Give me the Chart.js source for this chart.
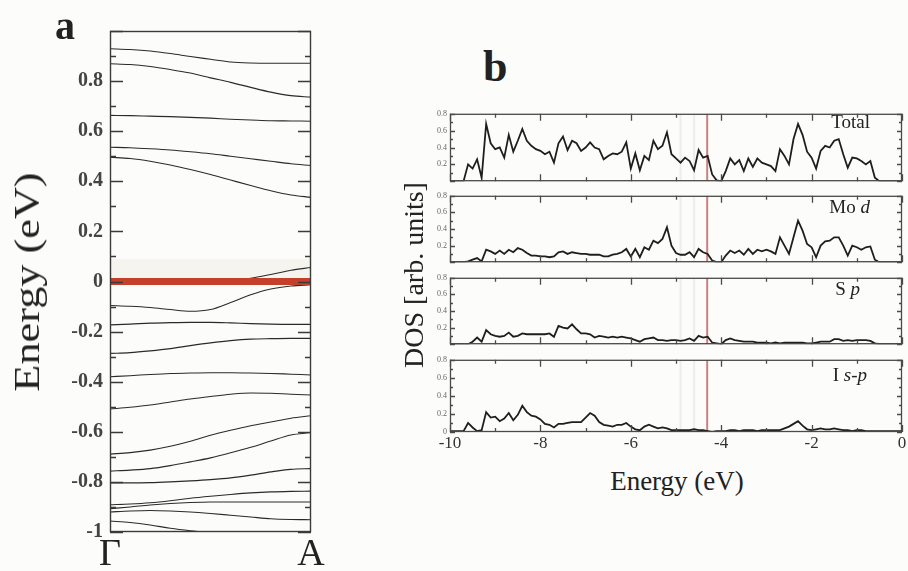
<!DOCTYPE html>
<html>
<head>
<meta charset="utf-8">
<script src="https://cdn.jsdelivr.net/npm/chart.js@4.4.1/dist/chart.umd.min.js"></script>
<style>
  html, body { margin: 0; padding: 0; background: #fcfcfa; }
  #wrap { position: relative; width: 908px; height: 571px; overflow: hidden;
          font-family: "Liberation Serif", "Times New Roman", serif; color: #222; }
  canvas { position: absolute; }
  .txt { position: absolute; line-height: 1; white-space: nowrap; }
  .rot { position: absolute; text-align: center; white-space: nowrap; transform-origin: 50% 50%; }
</style>
</head>
<body>
<div id="wrap">
  <canvas id="bandChart" width="330" height="571" style="left:0;top:0"></canvas>
  <canvas id="dosTotal" width="508" height="83" style="left:400px;top:106px"></canvas>
  <canvas id="dosMo" width="508" height="82" style="left:400px;top:188px"></canvas>
  <canvas id="dosS" width="508" height="82" style="left:400px;top:270px"></canvas>
  <canvas id="dosI" width="508" height="104" style="left:400px;top:352px"></canvas>

  <div class="txt" style="left:55px;top:6px;font-size:40px;font-weight:bold">a</div>
  <div class="txt" style="left:483px;top:45px;font-size:44px;font-weight:bold">b</div>

  <div class="rot" style="left:-123px;top:264px;width:300px;height:36px;line-height:36px;font-size:36px;transform:rotate(-90deg) scaleX(1.23)">Energy (eV)</div>
  <div class="rot" style="left:264px;top:261px;width:300px;height:28px;line-height:28px;font-size:28px;transform:rotate(-90deg)">DOS [arb. units]</div>
  <div class="txt" style="left:527px;top:468px;width:300px;text-align:center;font-size:27px">Energy (eV)</div>

  <div class="txt" style="left:770px;top:112px;width:100px;text-align:right;font-size:19px">Total</div>
  <div class="txt" style="left:770px;top:197px;width:100px;text-align:right;font-size:19px">Mo <i>d</i></div>
  <div class="txt" style="left:760px;top:279px;width:100px;text-align:right;font-size:19px">S <i>p</i></div>
  <div class="txt" style="left:767px;top:365px;width:100px;text-align:right;font-size:19px">I <i>s-p</i></div>
</div>

<script>
// ---- panel a: bands along Γ -> A ----
const kPath = [0, 0.1, 0.2, 0.3, 0.4, 0.5, 0.6, 0.7, 0.8, 0.9, 1];
const kLabels = ["Γ", "A"];

const bands = [
  [0.929, 0.926, 0.92, 0.91, 0.898, 0.887, 0.876, 0.872, 0.871, 0.871, 0.871],
  [0.869, 0.866, 0.858, 0.846, 0.832, 0.813, 0.795, 0.775, 0.756, 0.742, 0.736],
  [0.663, 0.662, 0.66, 0.658, 0.655, 0.652, 0.648, 0.645, 0.642, 0.641, 0.64],
  [0.536, 0.534, 0.53, 0.525, 0.518, 0.51, 0.5, 0.49, 0.48, 0.47, 0.463],
  [0.496, 0.491, 0.48, 0.465, 0.447, 0.427, 0.405, 0.383, 0.362, 0.345, 0.336],
  [0.003, 0.003, 0.003, 0.003, 0.003, 0.003, 0.005, 0.013, 0.028, 0.045, 0.056],
  [-0.096, -0.099, -0.104, -0.112, -0.119, -0.112, -0.084, -0.053, -0.03, -0.018, -0.013],
  [-0.173, -0.17, -0.166, -0.164, -0.163, -0.163, -0.165, -0.168, -0.17, -0.171, -0.171],
  [-0.287, -0.284, -0.277, -0.268, -0.256, -0.245, -0.236, -0.23, -0.228, -0.227, -0.227],
  [-0.38, -0.376, -0.371, -0.367, -0.365, -0.364, -0.364, -0.365, -0.367, -0.37, -0.373],
  [-0.509, -0.502, -0.493, -0.481, -0.469, -0.459, -0.45, -0.445, -0.446, -0.45, -0.453],
  [-0.689, -0.683, -0.673, -0.658, -0.638, -0.614, -0.594, -0.576, -0.561, -0.546, -0.536],
  [-0.757, -0.753, -0.747, -0.735, -0.72, -0.704, -0.684, -0.662, -0.637, -0.613, -0.603],
  [-0.804, -0.804, -0.803, -0.8, -0.796, -0.791, -0.784, -0.773, -0.76, -0.75, -0.747],
  [-0.891, -0.888, -0.883, -0.875, -0.865, -0.857, -0.85, -0.844, -0.84, -0.838, -0.837],
  [-0.907, -0.9, -0.892, -0.886, -0.882, -0.88, -0.88, -0.88, -0.88, -0.88, -0.88],
  [-0.92, -0.916, -0.914, -0.916, -0.92, -0.926, -0.933, -0.94, -0.947, -0.95, -0.951],
  [-0.956, -0.962, -0.972, -0.985, -0.995, -1.003, -1.01, -1.015, -1.02, -1.023, -1.025]
];
const fermiLevel = 0;
const shadeTop = 0.09;   // pale band just above E_F

// ---- panel b: DOS on a 0.1 eV grid from -10 to 0 ----
const dosTotal = [
  0, 0, 0, 0, 0.2, 0.15, 0.26, 0.04, 0.68, 0.45,
  0.38, 0.4, 0.28, 0.55, 0.35, 0.48, 0.62, 0.48, 0.42, 0.38,
  0.36, 0.32, 0.35, 0.22, 0.45, 0.53, 0.37, 0.48, 0.45, 0.36,
  0.4, 0.46, 0.4, 0.38, 0.26, 0.3, 0.33, 0.32, 0.35, 0.46,
  0.15, 0.33, 0.13, 0.3, 0.25, 0.48, 0.38, 0.42, 0.58, 0.32,
  0.27, 0.22, 0.28, 0.24, 0.13, 0.37, 0.28, 0.3, 0.08, 0.01,
  0, 0.12, 0.27, 0.2, 0.25, 0.12, 0.27, 0.17, 0.27, 0.22,
  0.2, 0.18, 0.12, 0.38, 0.3, 0.2, 0.5, 0.68, 0.55, 0.35,
  0.28, 0.15, 0.36, 0.42, 0.4, 0.48, 0.5, 0.32, 0.16, 0.28,
  0.27, 0.24, 0.2, 0.24, 0.04, 0, 0, 0, 0, 0, 0
];
const dosMoD = [
  0, 0, 0, 0, 0.01, 0.03, 0.05, 0.01, 0.15, 0.13,
  0.1, 0.14, 0.1, 0.15, 0.12, 0.17, 0.15, 0.11, 0.08, 0.08,
  0.07, 0.07, 0.06, 0.07, 0.12, 0.13, 0.1, 0.12, 0.11, 0.1,
  0.1, 0.09, 0.09, 0.09, 0.07, 0.07, 0.09, 0.1, 0.12, 0.16,
  0.07, 0.16, 0.06, 0.18, 0.15, 0.26, 0.23, 0.28, 0.42, 0.2,
  0.11, 0.09, 0.09, 0.12, 0.06, 0.16, 0.12, 0.1, 0.02, 0,
  0, 0.08, 0.14, 0.11, 0.14, 0.09, 0.16, 0.1, 0.15, 0.13,
  0.15, 0.13, 0.1, 0.3, 0.2, 0.1, 0.3, 0.5, 0.38, 0.22,
  0.18, 0.06, 0.2, 0.25, 0.26, 0.3, 0.3, 0.2, 0.08, 0.2,
  0.18, 0.15, 0.18, 0.19, 0.03, 0, 0, 0, 0, 0, 0
];
const dosSP = [
  0, 0, 0, 0, 0, 0.03, 0.08, 0.03, 0.17, 0.12,
  0.1, 0.09, 0.1, 0.14, 0.09, 0.1, 0.13, 0.12, 0.12, 0.12,
  0.12, 0.12, 0.13, 0.09, 0.22, 0.2, 0.19, 0.24, 0.18, 0.13,
  0.13, 0.12, 0.08, 0.1, 0.09, 0.08, 0.09, 0.08, 0.09, 0.08,
  0.07, 0.05, 0.03, 0.06, 0.07, 0.08, 0.05, 0.05, 0.04, 0.05,
  0.05, 0.04, 0.05, 0.07, 0.04, 0.1, 0.08, 0.09, 0.02, 0.01,
  0, 0.05, 0.07, 0.05, 0.04, 0.03, 0.03, 0.03, 0.02, 0.02,
  0.02, 0.01, 0.02, 0.01, 0.02, 0.02, 0.02, 0.02, 0.02, 0.01,
  0.01, 0.02, 0.03, 0.03, 0.03, 0.06, 0.06, 0.04, 0.05, 0.04,
  0.05, 0.05, 0.05, 0.04, 0.01, 0, 0, 0, 0, 0, 0
];
const dosISP = [
  0.01, 0.01, 0.01, 0.01, 0.1, 0.05, 0.01, 0.02, 0.22, 0.16,
  0.17, 0.12, 0.15, 0.21, 0.13, 0.19, 0.29, 0.22, 0.18, 0.17,
  0.14, 0.09, 0.08, 0.05, 0.09, 0.09, 0.1, 0.11, 0.11, 0.11,
  0.16, 0.21, 0.18, 0.11, 0.08, 0.07, 0.06, 0.08, 0.08, 0.1,
  0.06, 0.03, 0.02, 0.06, 0.08, 0.06, 0.04, 0.05, 0.04, 0.02,
  0.02, 0.02, 0.02, 0.02, 0.03, 0.02, 0.02, 0.01, 0, 0.01,
  0.01, 0.01, 0.02, 0.02, 0.01, 0.02, 0.02, 0.02, 0.01, 0.02,
  0.02, 0.02, 0.02, 0.02, 0.04, 0.06, 0.09, 0.12, 0.07, 0.03,
  0.02, 0.03, 0.04, 0.03, 0.03, 0.04, 0.03, 0.02, 0.02, 0.01,
  0.02, 0.02, 0.01, 0.01, 0.01, 0.01, 0.01, 0.01, 0.01, 0.01, 0.01
];
const energies = dosTotal.map((_, i) => -10 + i * 0.1);
const energyTicks = [-10, -8, -6, -4, -2, 0];
const redMarker = -4.31;
const faintMarkers = [-4.9, -4.6];

const serif = '"Liberation Serif", "Times New Roman", serif';

// frame + inward ticks on all four sides (spec kept in a closure)
function frameTicks(spec) {
  return {
    id: 'frameTicks',
    afterDraw(chart) {
      const ctx = chart.ctx;
      const a = chart.chartArea;
      ctx.save();
      ctx.strokeStyle = spec.color;
      ctx.lineWidth = spec.width;
      ctx.strokeRect(a.left + 0.5, a.top + 0.5, a.right - a.left - 1, a.bottom - a.top - 1);
      ['x', 'y'].forEach(id => {
        const s = spec[id];
        const scale = chart.scales[id];
        if (!s || !scale) return;
        const n = Math.round((s.max - s.min) / s.minor);
        ctx.beginPath();
        for (let i = 0; i <= n; i++) {
          const v = s.min + i * s.minor;
          const isMajor = Math.abs(v / s.major - Math.round(v / s.major)) < 1e-6;
          const len = isMajor ? s.len : s.minorLen;
          const p = Math.round(scale.getPixelForValue(v)) + 0.5;
          if (id === 'x') {
            ctx.moveTo(p, a.top); ctx.lineTo(p, a.top + len);
            ctx.moveTo(p, a.bottom); ctx.lineTo(p, a.bottom - len);
          } else {
            ctx.moveTo(a.left, p); ctx.lineTo(a.left + len, p);
            ctx.moveTo(a.right, p); ctx.lineTo(a.right - len, p);
          }
        }
        ctx.stroke();
      });
      ctx.restore();
    }
  };
}

const fmt = v => String(Math.round(v * 10) / 10);

// ---- band structure ----
const bandSets = [
  {
    data: [{ x: kPath[0], y: fermiLevel }, { x: kPath[kPath.length - 1], y: fermiLevel }],
    borderColor: '#c4402a', borderWidth: 7, pointRadius: 0
  },
  ...bands.map(b => ({
    data: kPath.map((k, i) => ({ x: k, y: b[i] })),
    borderColor: '#2a2a2a', borderWidth: 1.1, pointRadius: 0,
    cubicInterpolationMode: 'monotone'
  })),
  {
    data: [{ x: kPath[0], y: shadeTop }, { x: kPath[kPath.length - 1], y: shadeTop }],
    borderWidth: 0, pointRadius: 0, fill: 'origin',
    backgroundColor: 'rgba(222,220,205,0.25)'
  }
];

new Chart(document.getElementById('bandChart'), {
  type: 'line',
  data: { datasets: bandSets },
  plugins: [frameTicks({
    color: '#3a3a3a', width: 1.4,
    y: { min: -1, max: 1, major: 0.2, minor: 0.1, len: 13, minorLen: 6 }
  })],
  options: {
    responsive: false,
    animation: false,
    layout: { padding: { top: 31, right: 19, left: 0, bottom: 0 } },
    plugins: { legend: { display: false }, tooltip: { enabled: false } },
    scales: {
      x: {
        type: 'linear', min: 0, max: 1,
        afterBuildTicks: s => { s.ticks = [{ value: 0 }, { value: 1 }]; },
        afterFit: s => { s.height = 39; },
        ticks: {
          callback: v => (v === 0 ? kLabels[0] : kLabels[1]),
          font: { family: serif, size: 38 }, color: '#222',
          padding: 0, maxRotation: 0, autoSkip: false
        },
        grid: { display: false, drawTicks: false },
        border: { display: false }
      },
      y: {
        min: -1, max: 1,
        afterFit: s => { s.width = 110; },
        ticks: {
          stepSize: 0.2,
          callback: v => (Math.abs(v - 1) < 1e-6 ? '' : fmt(v)),
          font: { family: serif, size: 20, weight: 'bold' }, color: '#444', padding: 7
        },
        grid: { display: false, drawTicks: false },
        border: { display: false }
      }
    }
  }
});

// ---- DOS panels ----
function makeDos(id, values, bottom) {
  const sets = [
    {
      data: energies.map((e, i) => ({ x: e, y: values[i] })),
      borderColor: '#1e1e1e', borderWidth: 1.8, pointRadius: 0, tension: 0
    },
    {
      data: [{ x: redMarker, y: 0 }, { x: redMarker, y: 0.8 }],
      borderColor: 'rgba(190,85,85,0.75)', borderWidth: 2, pointRadius: 0
    },
    ...faintMarkers.map(m => ({
      data: [{ x: m, y: 0 }, { x: m, y: 0.8 }],
      borderColor: 'rgba(170,185,165,0.2)', borderWidth: 2, pointRadius: 0
    }))
  ];
  new Chart(document.getElementById(id), {
    type: 'line',
    data: { datasets: sets },
    plugins: [frameTicks({
      color: '#4a4a4a', width: 1.3,
      x: { min: -10, max: 0, major: 2, minor: 1, len: 7, minorLen: 4 },
      y: { min: 0, max: 0.8, major: 0.2, minor: 0.1, len: 5, minorLen: 3 }
    })],
    options: {
      responsive: false,
      animation: false,
      layout: { padding: { top: 2, right: 6, left: 0, bottom: bottom ? 0 : 2 } },
      plugins: { legend: { display: false }, tooltip: { enabled: false } },
      scales: {
        x: {
          type: 'linear', min: -10, max: 0,
          display: bottom,
          afterBuildTicks: s => { s.ticks = energyTicks.map(v => ({ value: v })); },
          afterFit: s => { s.height = bottom ? 24 : 0; },
          ticks: {
            callback: v => String(v),
            font: { family: serif, size: 17 }, color: '#333',
            padding: 1, maxRotation: 0, autoSkip: false
          },
          grid: { display: false, drawTicks: false },
          border: { display: false }
        },
        y: {
          min: 0, max: 0.8,
          afterFit: s => { s.width = 50; },
          ticks: {
            stepSize: 0.2,
            callback: v => (v === 0 && !bottom ? '' : fmt(v)),
            font: { family: serif, size: 8 }, color: '#666', padding: 3
          },
          grid: { display: false, drawTicks: false },
          border: { display: false }
        }
      }
    }
  });
}

makeDos('dosTotal', dosTotal, false);
makeDos('dosMo', dosMoD, false);
makeDos('dosS', dosSP, false);
makeDos('dosI', dosISP, true);
</script>
</body>
</html>
